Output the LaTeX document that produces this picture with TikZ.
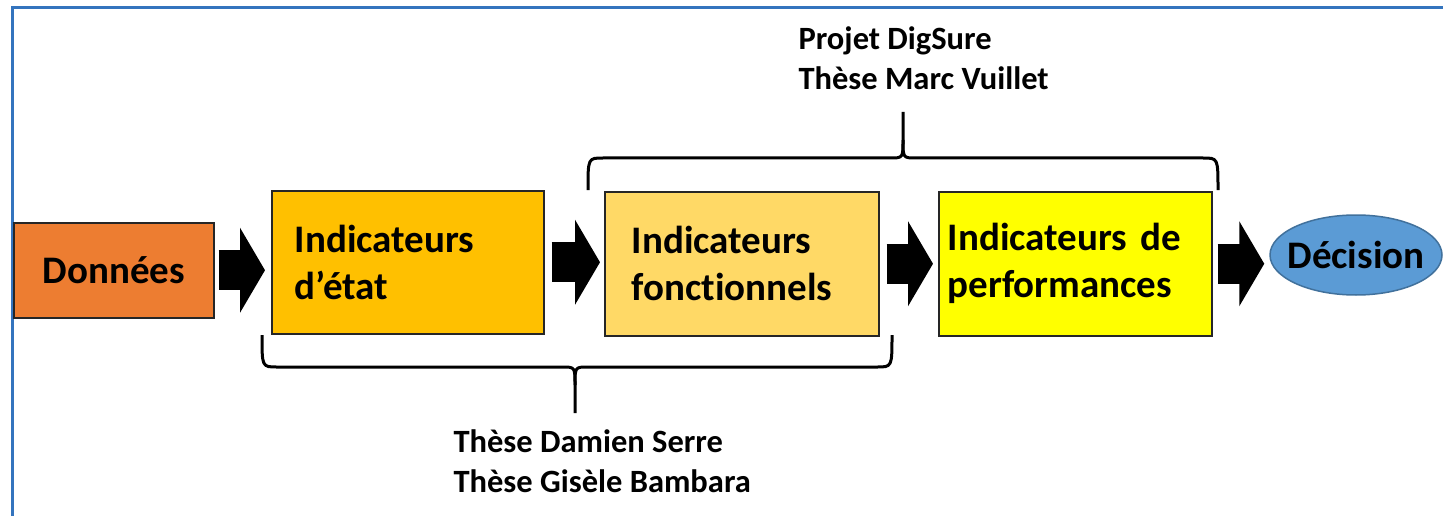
\documentclass[tikz,border=0pt]{standalone}
\usepackage{fontspec}
\setmainfont{Carlito}[Ligatures=NoCommon]
\usetikzlibrary{arrows.meta,shapes.geometric,positioning}

\definecolor{frameblue}{RGB}{52,116,190}
\definecolor{donorange}{RGB}{237,125,49}
\definecolor{etatgold}{RGB}{255,192,0}
\definecolor{fonclight}{RGB}{255,217,102}
\definecolor{perfyellow}{RGB}{255,255,0}
\definecolor{decblue}{RGB}{91,155,213}
\definecolor{decedge}{RGB}{65,113,156}

\tikzset{
    box/.style={draw=black!85, line width=1.5pt, anchor=north west, align=left,
        font=\fontsize{39}{47}\selectfont\bfseries},
    flow/.style={line width=40pt, -{Triangle[length=25pt,width=84pt]}},
    brace/.style={line width=3pt, line join=round},
    thesis/.style={anchor=base west, align=left, font=\fontsize{32.5}{40}\selectfont\bfseries}
}

\begin{document}
\begin{tikzpicture}[x=1pt,y=-1pt]
        \useasboundingbox (0,0) rectangle (1443,516);

        % Blue frame, only top and left edges show
        \draw[frameblue, line width=3pt] (12,530) -- (12,8) -- (1460,8);

        % Boxes of the chain
        \node[box, fill=donorange, minimum width=200pt, minimum height=95pt, align=center] (don) at (13,222) {Données};
        \node[box, fill=etatgold, minimum height=143pt, inner xsep=23pt, text width=226pt] (etat) at (271,190) {Indicateurs\\d’état};
        \node[box, fill=fonclight, minimum height=144pt, inner xsep=27pt, text width=220pt] (fonc) at (604,191) {Indicateurs\\fonctionnels};
        \node[box, fill=perfyellow, minimum height=144pt, inner xsep=9pt, text width=255pt] (perf) at (938,191) {Indicateurs de\\performances};
        \node[ellipse, draw=decedge, fill=decblue, line width=1.5pt, minimum width=172pt, minimum height=80pt,
            label={[font=\fontsize{39}{47}\selectfont\bfseries]center:Décision}] (dec) at (1356,255) {};

        % Block arrows between the boxes
        \draw[flow, shorten <=4pt, shorten >=6pt] (don.east) -- (don.east -| etat.west);
        \draw[flow, shorten <=7pt, shorten >=4pt] (etat.east) -- (etat.east -| fonc.west);
        \draw[flow, shorten <=7pt, shorten >=5pt] (fonc.east) -- (fonc.east -| perf.west);
        \draw[flow, shorten <=5pt, shorten >=5pt] (perf.east) -- (perf.east -| dec.west);

        % Top brace over fonctionnels and performances
        \draw[brace] (588,190) .. controls (588,158) .. (603,158) -- (890,158)
            .. controls (903,158) .. (903,140) -- (903,112);
        \draw[brace] (903,140) .. controls (903,158) .. (916,158) -- (1203,158)
            .. controls (1218,158) .. (1218,190);
        \node[thesis] (digsure) at (795,90) {Projet DigSure\\Thèse Marc Vuillet};

        % Bottom brace under etat and fonctionnels
        \draw[brace] (262,335) .. controls (262,367) .. (277,367) -- (562,367)
            .. controls (575,367) .. (575,385) -- (575,413);
        \draw[brace] (575,385) .. controls (575,367) .. (588,367) -- (877,367)
            .. controls (892,367) .. (892,335);
        \node[thesis] (serre) at (450,492) {Thèse Damien Serre\\Thèse Gisèle Bambara};
    \end{tikzpicture}
\end{document}
